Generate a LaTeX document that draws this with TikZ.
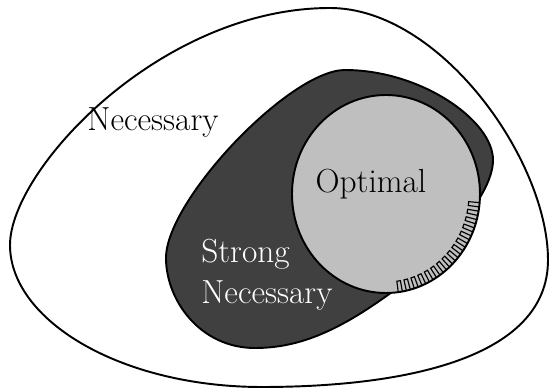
\documentclass[tikz,border=0pt]{standalone}
\begin{document}
\begin{tikzpicture}[x=0.02cm,y=-0.02cm,
  region/.style={draw=black,line width=1.1pt},
  hatchline/.style={draw=black,line width=0.65pt},
  lbl/.style={font=\fontsize{19}{23}\selectfont,inner sep=0pt}]
\useasboundingbox (0,0) rectangle (549,392);
% outer set: necessary conditions
\draw[region,fill=white] (10,245)
  .. controls (10,170) and (160,8) .. (330,8)
  .. controls (440,8) and (548,160) .. (548,260)
  .. controls (548,360) and (400,387) .. (262,387)
  .. controls (120,387) and (10,320) .. (10,245) -- cycle;
% strong necessary conditions
\draw[region,fill=black!75] (345,70)
  .. controls (420,70) and (493,120) .. (493,160)
  .. controls (493,200) and (430,260) .. (392,292)
  .. controls (340,330) and (300,348) .. (255,348)
  .. controls (200,348) and (166,300) .. (166,258)
  .. controls (166,200) and (290,70) .. (345,70) -- cycle;
% optimal solutions
\draw[region,fill=black!25] (386,194) ellipse [x radius=94,y radius=99];
% part of the optimal set outside the strong necessary set
\foreach \a in {5,10,...,80} {
  \draw[hatchline] ({386+94*cos(\a)},{194+99*sin(\a)})
    -- ({386+83*cos(\a)},{194+88*sin(\a)})
    -- ({386+83*cos(\a+2.5)},{194+88*sin(\a+2.5)})
    -- ({386+94*cos(\a+2.5)},{194+99*sin(\a+2.5)});
}
\node[lbl] (nec) at (153,122) {Necessary};
\node[lbl] (opt) at (371,184) {Optimal};
\node[lbl,text=white,align=left,anchor=north west] (strong) at (201,239) {Strong\\Necessary};
\end{tikzpicture}
\end{document}
